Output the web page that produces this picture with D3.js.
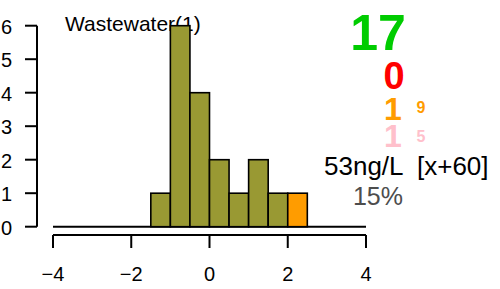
<!DOCTYPE html>
<html>
<head>
<meta charset="utf-8">
<script src="https://cdn.jsdelivr.net/npm/d3@7"></script>
<style>
  body { margin: 0; background: #fff; }
  svg { display: block; font-family: "Liberation Sans", Arial, sans-serif; }
</style>
</head>
<body>
<script>
// histogram data
const binStarts = [-1.5, -1, -0.5, 0, 0.5, 1, 1.5, 2];
const binWidth = 0.5;
const counts = [1, 6, 4, 2, 1, 2, 1, 1];
const highlightBin = 2;          // bin starting here is drawn orange
const xTicks = [-4, -2, 0, 2, 4];
const yTicks = [0, 1, 2, 3, 4, 5, 6];

// annotation text
const title = "Wastewater(1)";
const totalN = 17;
const redN = 0;
const orangeN = 1, orangeSub = 9;
const pinkN = 1, pinkSub = 5;
const concLabel = "53ng/L  [x+60]";
const pctLabel = "15%";

const W = 500, H = 289;
const svg = d3.select("body").append("svg")
  .attr("width", W).attr("height", H);

const x = d3.scaleLinear().domain([-4, 4]).range([53, 366]);
const y = d3.scaleLinear().domain([0, 6]).range([226.7, 25.7]);

const fmt = d => d < 0 ? "\u2212" + Math.abs(d) : String(d);

// title drawn first so bars cover it
svg.append("text")
  .attr("x", 65).attr("y", 31)
  .style("font-size", "21px")
  .text(title);

// baseline from -4 to 4
svg.append("line")
  .attr("x1", x(-4)).attr("x2", x(4))
  .attr("y1", y(0)).attr("y2", y(0))
  .attr("stroke", "black").attr("stroke-width", 2);

// bars
svg.append("g").selectAll("rect")
  .data(binStarts.map((b, i) => ({ b: b, n: counts[i] })))
  .enter().append("rect")
  .attr("x", d => x(d.b))
  .attr("width", d => x(d.b + binWidth) - x(d.b))
  .attr("y", d => y(d.n))
  .attr("height", d => y(0) - y(d.n))
  .attr("fill", d => d.b === highlightBin ? "#FF9C00" : "#999933")
  .attr("stroke", "black")
  .attr("stroke-width", 1.6);

// y axis (R style)
const gy = svg.append("g");
gy.append("line")
  .attr("x1", 37).attr("x2", 37)
  .attr("y1", y(0)).attr("y2", y(6))
  .attr("stroke", "black").attr("stroke-width", 2);
gy.selectAll(".yt").data(yTicks).enter().append("line")
  .attr("x1", 25).attr("x2", 37)
  .attr("y1", d => y(d)).attr("y2", d => y(d))
  .attr("stroke", "black").attr("stroke-width", 2);
gy.selectAll("text").data(yTicks).enter().append("text")
  .attr("x", 12).attr("y", d => y(d) + 8)
  .attr("text-anchor", "end")
  .style("font-size", "20px")
  .text(fmt);

// x axis
const gx = svg.append("g");
gx.append("line")
  .attr("x1", x(-4)).attr("x2", x(4))
  .attr("y1", 235).attr("y2", 235)
  .attr("stroke", "black").attr("stroke-width", 2);
gx.selectAll(".xt").data(xTicks).enter().append("line")
  .attr("x1", d => x(d)).attr("x2", d => x(d))
  .attr("y1", 235).attr("y2", 248)
  .attr("stroke", "black").attr("stroke-width", 2);
gx.selectAll("text").data(xTicks).enter().append("text")
  .attr("x", d => x(d)).attr("y", 281)
  .attr("text-anchor", "middle")
  .style("font-size", "20px")
  .text(fmt);

// right-hand annotations
const ann = svg.append("g").style("font-weight", "bold").attr("text-anchor", "middle");
ann.append("text").attr("x", 378).attr("y", 50)
  .style("font-size", "50px").attr("fill", "#00CC00").text(totalN);
ann.append("text").attr("x", 394).attr("y", 89)
  .style("font-size", "38px").attr("fill", "#FF0000").text(redN);
ann.append("text").attr("x", 393).attr("y", 120)
  .style("font-size", "32px").attr("fill", "#FF9C00").text(orangeN);
ann.append("text").attr("x", 421).attr("y", 112.5)
  .style("font-size", "16px").attr("fill", "#FF9C00").text(orangeSub);
ann.append("text").attr("x", 393).attr("y", 147)
  .style("font-size", "32px").attr("fill", "#FFC0CB").text(pinkN);
ann.append("text").attr("x", 421).attr("y", 141.7)
  .style("font-size", "16px").attr("fill", "#FFC0CB").text(pinkSub);

svg.append("text")
  .attr("x", 324).attr("y", 175)
  .style("font-size", "26px")
  .style("white-space", "pre")
  .text(concLabel);
svg.append("text")
  .attr("x", 378).attr("y", 205)
  .attr("text-anchor", "middle")
  .style("font-size", "25px")
  .attr("fill", "#4D4D4D")
  .text(pctLabel);
</script>
</body>
</html>
